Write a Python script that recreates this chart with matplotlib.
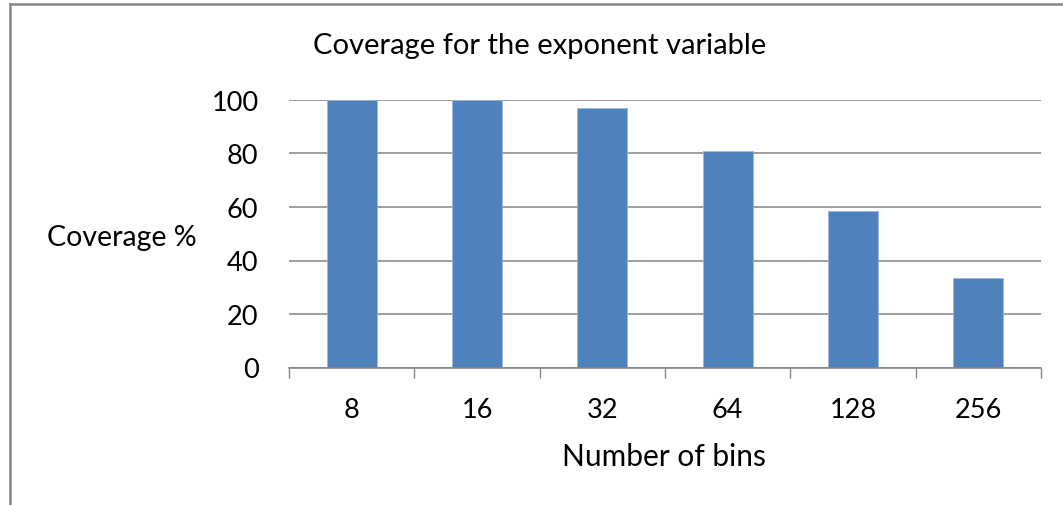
import matplotlib
matplotlib.use('Agg')
import matplotlib.pyplot as plt
from matplotlib.lines import Line2D

# data
bins = ['8', '16', '32', '64', '128', '256']
coverage = [100, 100, 97, 81, 58.5, 33.5]
yticks = [0, 20, 40, 60, 80, 100]

plt.rcParams['font.family'] = ['Lato', 'DejaVu Sans']

W, H = 1063, 506
fig = plt.figure(figsize=(W / 100, H / 100), dpi=100)
ax = fig.add_axes([289 / W, 1 - 368.5 / H, (1041 - 289) / W, (368.5 - 101) / H])

pos = list(range(len(bins)))
ax.bar(pos, coverage, width=0.4, color='#4f81bd', edgecolor='#9bb7dd', linewidth=0.6, zorder=3)

ax.set_xlim(-0.5, len(bins) - 0.5)
ax.set_ylim(0, 100)
ax.set_yticks(yticks)
ax.set_xticks(pos)
ax.set_xticklabels(bins)
ax.set_xticks([p - 0.5 for p in range(len(bins) + 1)], minor=True)

ax.tick_params(axis='y', length=0, pad=22, labelsize=19.5, labelcolor='black')
ax.tick_params(axis='x', which='major', length=0, pad=21, labelsize=19.5)
ax.tick_params(axis='x', which='minor', length=7, width=1, color='#868686', direction='out')

ax.grid(axis='y', color='#8c8c8c', linewidth=1.2, zorder=0)
for s in ['top', 'right', 'left']:
    ax.spines[s].set_visible(False)
ax.spines['bottom'].set_color('#868686')
ax.spines['bottom'].set_linewidth(1.2)
ax.spines['bottom'].set_zorder(4)

fig.text(540 / W, 1 - 46 / H, 'Coverage for the exponent variable', ha='center', va='center', fontsize=21)
fig.text(197 / W, 1 - 238 / H, 'Coverage %', ha='right', va='center', fontsize=20.5)
fig.text(664 / W, 1 - 457 / H, 'Number of bins', ha='center', va='center', fontsize=21.5)

# outer chart border (top and left only visible)
fig.add_artist(Line2D([10 / W, 10 / W], [0, 1 - 5 / H], transform=fig.transFigure, color='#868686', linewidth=1.8))
fig.add_artist(Line2D([10 / W, 1], [1 - 5 / H, 1 - 5 / H], transform=fig.transFigure, color='#868686', linewidth=1.8))

fig.savefig('out.png', dpi=100)
